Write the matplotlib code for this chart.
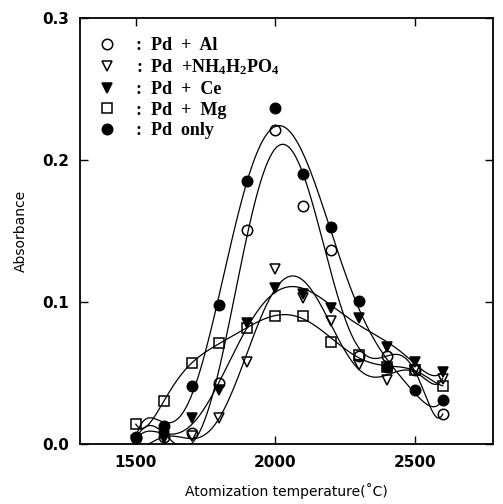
import numpy as np
import matplotlib
matplotlib.use("Agg")
import matplotlib.pyplot as plt

temps = [1500, 1600, 1700, 1800, 1900, 2000, 2100, 2200, 2300, 2400, 2500, 2600]

pd_al = [0.004, 0.005, 0.008, 0.043, 0.151, 0.221, 0.168, 0.137, 0.062, 0.062, 0.052, 0.021]
pd_nh4 = [0.002, 0.004, 0.006, 0.018, 0.058, 0.123, 0.103, 0.087, 0.056, 0.045, 0.052, 0.046]
pd_ce = [0.003, 0.006, 0.018, 0.038, 0.085, 0.110, 0.106, 0.096, 0.089, 0.068, 0.058, 0.051]
pd_mg = [0.014, 0.030, 0.057, 0.071, 0.082, 0.090, 0.090, 0.072, 0.063, 0.054, 0.052, 0.041]
pd_only = [0.005, 0.013, 0.041, 0.098, 0.185, 0.237, 0.190, 0.153, 0.101, 0.054, 0.038, 0.031]

series = [
    (pd_al, "o", "none", ":  Pd  +  Al"),
    (pd_nh4, "v", "none", r":  Pd  +NH$_4$H$_2$PO$_4$"),
    (pd_ce, "v", "black", ":  Pd  +  Ce"),
    (pd_mg, "s", "none", ":  Pd  +  Mg"),
    (pd_only, "o", "black", ":  Pd  only"),
]

plt.rcParams["mathtext.fontset"] = "custom"
plt.rcParams["mathtext.rm"] = "Liberation Serif:bold"
plt.rcParams["mathtext.it"] = "Liberation Serif:bold"
plt.rcParams["mathtext.bf"] = "Liberation Serif:bold"

fig = plt.figure(figsize=(5.03, 5.04), dpi=100)
ax = fig.add_axes([0.159, 0.119, 0.821, 0.845])

x = np.array(temps, dtype=float)
xs = np.linspace(1500, 2600, 400)
handles = []
for vals, mk, fc, lab in series:
    # smooth fitted curve through the points
    coef = np.polyfit((x - 2050) / 550, vals, 8)
    ax.plot(xs, np.polyval(coef, (xs - 2050) / 550), color="black", lw=0.9)
    h, = ax.plot(temps, vals, ls="none", marker=mk, ms=7.5, mfc=fc,
                 mec="black", mew=1.1, label=lab)
    handles.append(h)

ax.set_xlim(1300, 2780)
ax.set_ylim(0, 0.3)
ax.set_xticks([1500, 2000, 2500])
ax.set_yticks([0.0, 0.1, 0.2, 0.3])
ax.set_yticklabels(["0.0", "0.1", "0.2", "0.3"])
ax.tick_params(direction="in", top=True, right=True, length=6, width=1,
               labelsize=11, pad=8)
for lbl in ax.get_xticklabels() + ax.get_yticklabels():
    lbl.set_fontweight("semibold")
for s in ax.spines.values():
    s.set_linewidth(1.3)

ax.set_xlabel("Atomization temperature(\u02daC)", fontsize=10, labelpad=9)
ax.set_ylabel("Absorbance", fontsize=10, labelpad=10)

leg = ax.legend(handles=handles, loc="upper left", frameon=False,
                bbox_to_anchor=(0.0, 0.985), handletextpad=0.8,
                handlelength=1.6, labelspacing=0.2, borderaxespad=0.3,
                prop={"family": "Liberation Serif", "size": 13,
                      "weight": "bold"})

fig.savefig("out.png", dpi=100)
